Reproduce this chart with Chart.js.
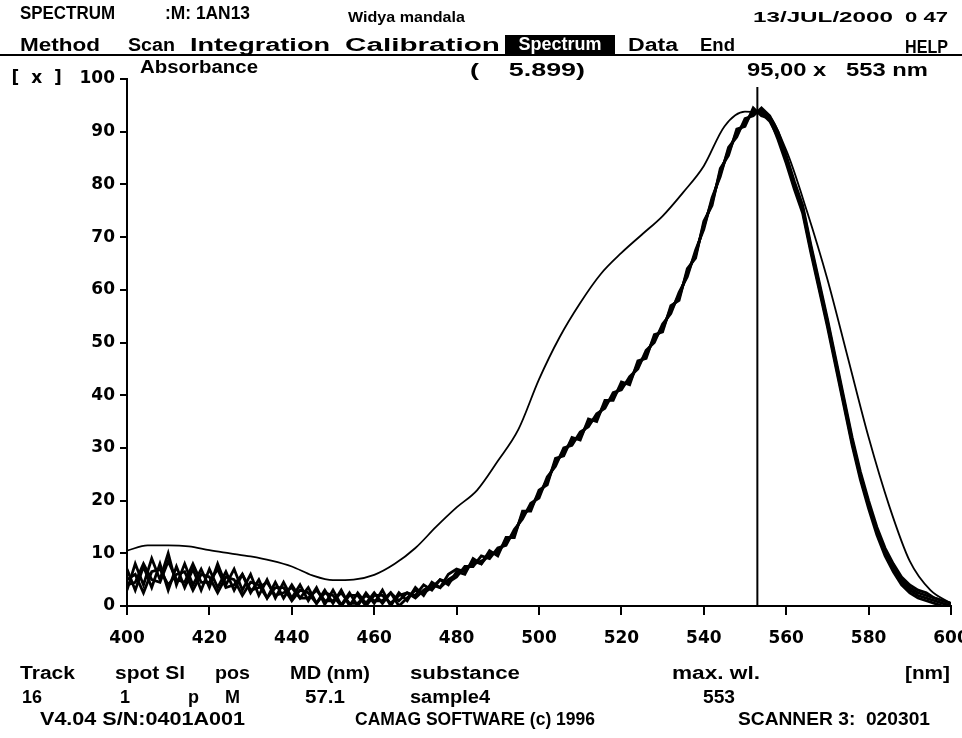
<!DOCTYPE html>
<html>
<head>
<meta charset="utf-8">
<script src="https://cdn.jsdelivr.net/npm/chart.js@4.4.1/dist/chart.umd.min.js"></script>
<style>
  html, body { margin: 0; padding: 0; background: #fff; }
  #wrap { position: relative; width: 962px; height: 738px; overflow: hidden; background: #fff; }
  #c { position: absolute; left: 0; top: 0; }
  .t { position: absolute; font-family: "Liberation Sans", Arial, sans-serif; font-weight: bold; font-size: 18px; line-height: 18px; color: #000; white-space: pre; transform-origin: 0 50%; }
  .s { font-size: 15px; line-height: 15px; }
  .inv { background: #000; color: #fff; width: 110px; height: 19px; text-align: center; }
  #rule { position: absolute; left: 0; top: 54px; width: 962px; height: 2px; background: #000; }
</style>
</head>
<body>
<div id="wrap">
  <canvas id="c" width="962" height="738"></canvas>
  <div class="t" data-w="95" style="left:20px;top:4px;">SPECTRUM</div>
  <div class="t" data-w="85" style="left:165px;top:4px;">:M: 1AN13</div>
  <div class="t s" data-w="117" style="left:348px;top:9px;">Widya mandala</div>
  <div class="t s" data-w="140" style="left:753px;top:9px;">13/JUL/2000</div>
  <div class="t s" data-w="43" style="left:905px;top:9px;">0 47</div>

  <div class="t" data-w="80" style="left:20px;top:36px;">Method</div>
  <div class="t" data-w="47" style="left:128px;top:36px;">Scan</div>
  <div class="t" data-w="140" style="left:190px;top:36px;">Integration</div>
  <div class="t" data-w="155" style="left:345px;top:36px;">Calibration</div>
  <div class="t inv" style="left:505px;top:35px;line-height:19px;">Spectrum</div>
  <div class="t" data-w="50" style="left:628px;top:36px;">Data</div>
  <div class="t" data-w="35" style="left:700px;top:36px;">End</div>
  <div class="t" data-w="43" style="left:905px;top:38px;">HELP</div>
  <div id="rule"></div>

  <div class="t" data-w="118" style="left:140px;top:58px;">Absorbance</div>
  <div class="t" data-w="115" style="left:470px;top:61px;">(    5.899)</div>
  <div class="t" data-w="181" style="left:747px;top:61px;">95,00 x   553 nm</div>

  <div class="t" data-w="55" style="left:20px;top:664px;">Track</div>
  <div class="t" data-w="70" style="left:115px;top:664px;">spot Sl</div>
  <div class="t" data-w="35" style="left:215px;top:664px;">pos</div>
  <div class="t" data-w="80" style="left:290px;top:664px;">MD (nm)</div>
  <div class="t" data-w="110" style="left:410px;top:664px;">substance</div>
  <div class="t" data-w="88" style="left:672px;top:664px;">max. wl.</div>
  <div class="t" data-w="45" style="left:905px;top:664px;">[nm]</div>

  <div class="t" data-w="20" style="left:22px;top:688px;">16</div>
  <div class="t" style="left:120px;top:688px;">1</div>
  <div class="t" style="left:188px;top:688px;">p</div>
  <div class="t" style="left:225px;top:688px;">M</div>
  <div class="t" data-w="40" style="left:305px;top:688px;">57.1</div>
  <div class="t" data-w="80" style="left:410px;top:688px;">sample4</div>
  <div class="t" data-w="32" style="left:703px;top:688px;">553</div>

  <div class="t" data-w="205" style="left:40px;top:710px;">V4.04 S/N:0401A001</div>
  <div class="t" data-w="240" style="left:355px;top:710px;">CAMAG SOFTWARE (c) 1996</div>
  <div class="t" data-w="192" style="left:738px;top:710px;">SCANNER 3:  020301</div>
</div>
<script>
// wavelengths (nm) of the sample tracks
const wavelengths = [400,402,404,406,408,410,412,414,416,418,420,422,424,426,428,430,432,434,436,438,
  440,442,444,446,448,450,452,454,456,458,460,462,464,466,468,470,472,474,476,478,
  480,482,484,486,488,490,492,494,496,498,500,502,504,506,508,510,512,514,516,518,
  520,522,524,526,528,530,532,534,536,538,540,542,544,546,548,550,552,554,556,558,
  560,562,564,566,568,570,572,574,576,578,580,582,584,586,588,590,592,594,596,598,600];

const sampleA = [3,8,4,9,5,10,4,8,4,7, 3.5,8,4,7,3,6,2,5,1.5,4.5, 1.5,4,1,3.5,0.3,3,0.2,2.5,0,2.5, 0.5,3,0,2.5,1,3.5,2,4.5,3.5,6,
  7,6.5,8.5,8,10,10,12.5,13.5,17.5,18.5, 21.5,23.5,27.5,29,31.5,32,35,35.5,38.5,39.5, 42,42.5,46,47.5,51,52.5,56.5,58.5,63.5,66.5,
  72.5,76.5,82.5,86,90,91.5,94,93.5,92,89, 84.5,79.5,75,67.5,60.5,53.5,46,38.5,31,24.5, 19,14,10,7,4.5,3,2,1.5,1,0.5, 0];
const sampleB = [7,3,7.5,3.5,8,3,7.5,3.5,7,3, 7,3.5,6.5,3,6,2.5,5,1.5,4.5,1.5, 4,1.5,3.5,0.5,3,0.5,3,0,2.5,0.5, 2.5,0.5,2.5,1,2.5,2,4,3,5,4.5,
  5.5,7.5,7.5,9.5,9,11,11.5,14.5,16.5,19.5, 20.5,24.5,26.5,30,30.5,33,34,36.5,37.5,40.5, 41,43.5,45,48.5,50,53.5,55.5,59.5,62.5,67.5,
  71.5,77.5,81.5,87,89,92.5,93,94.5,93,90, 85.5,80.5,76,68.5,61.5,54.5,47,39.5,32,25.5, 20,15,11,8,5.5,4,3,2.5,1.5,1, 0.5];
const sampleC = [5,6,2.5,6.5,7,4,6,6.5,3,6, 5.5,2.5,5.5,5,2,4.5,4,1.5,3.5,3.5, 1,3,2.5,0.5,2.5,2,0,2,2,0, 2,2,0.5,2,2.5,1.5,3,4,3.5,5,
  6,7,8,8.5,9.5,10.5,12,14,17,19, 21,24,27,29.5,31,32.5,34.5,36,38,40, 41.5,43,45.5,48,50.5,53,56,59,63,67,
  72,77,82,86.5,89.5,92,93.5,94,92.5,89.5, 85,80,75.5,68,61,54,46.5,39,31.5,25, 19.5,14.5,10.5,7.5,5,3.5,2.5,2,1.5,1, 0.5];
const sampleD = [4,4.5,8,5,4.5,8.5,5,4.5,8,4.5, 4.5,7,3.5,4,6,3,3.5,4.5,2,2.5, 3.5,1.5,1.5,3,1,1,2.5,0.5,0.5,2, 1,1,2.5,0,1.5,3,2.5,3.5,5,4,
  6.5,6,9,8,10.5,9.5,13,13,18,18, 22,23,28,28.5,32,31.5,35.5,35,39,39, 42.5,42,46.5,47,51.5,52,57,58,64,66,
  73,76,83,85.5,90.5,91,94.5,93,92.5,88.5, 84,79,74.5,67,60,53,45.5,38,30.5,24, 18.5,13.5,9.5,6.5,4,2.5,1.5,1,0.5,0, 0];

// reference (standard) track
const stdWavelengths = [400,405,410,415,420,425,430,435,440,445,450,455,460,465,470,475,480,485,490,495,
  500,505,510,515,520,525,530,535,540,545,550,555,560,565,570,575,580,585,590,595,600];
const stdValues = [10.5,11.5,11.5,11.3,10.6,10,9.4,8.6,7.5,5.8,4.9,5,5.9,8,11,15,18.7,22,27.5,33.5,
  43,51,57.5,63,67,70.5,74,78.5,83.5,91,93.8,93.5,86.5,75,62,47,32,19,8.5,3,0.5];

// cursor at max wavelength
const cursorWl = 553;
const cursorRange = [0, 98.5];

const xTicks = [400,420,440,460,480,500,520,540,560,580,600];
const yTicks = [0,10,20,30,40,50,60,70,80,90,100];
const yTopLabel = '[  x  ]   100';

// stretch the text blocks horizontally to the widths they have in the printout
document.querySelectorAll('.t[data-w]').forEach(el => {
  const target = +el.dataset.w;
  const natural = el.getBoundingClientRect().width;
  if (natural > 0) el.style.transform = 'scaleX(' + (target / natural) + ')';
});

const pts = (xs, ys) => xs.map((x, i) => ({x, y: ys[i]}));
const tickFont = {family: '"DejaVu Sans", sans-serif', weight: 'bold', size: 17};

const sampleStyle = {borderColor: '#000', borderWidth: 2.8, pointRadius: 0, tension: 0, fill: false};

new Chart(document.getElementById('c'), {
  type: 'line',
  data: {
    datasets: [
      Object.assign({label: 'A', data: pts(wavelengths, sampleA)}, sampleStyle),
      Object.assign({label: 'B', data: pts(wavelengths, sampleB)}, sampleStyle),
      Object.assign({label: 'C', data: pts(wavelengths, sampleC)}, sampleStyle),
      Object.assign({label: 'D', data: pts(wavelengths, sampleD)}, sampleStyle),
      {label: 'std', data: pts(stdWavelengths, stdValues), borderColor: '#000', borderWidth: 1.8,
       pointRadius: 0, cubicInterpolationMode: 'monotone', fill: false},
      {label: 'cursor', data: cursorRange.map(v => ({x: cursorWl, y: v})), borderColor: '#000',
       borderWidth: 2, pointRadius: 0, fill: false}
    ]
  },
  options: {
    responsive: false,
    animation: false,
    layout: {padding: {left: 0, right: 11, top: 79, bottom: 92}},
    plugins: {legend: {display: false}, tooltip: {enabled: false}},
    scales: {
      x: {
        type: 'linear', min: 400, max: 600,
        afterBuildTicks: s => { s.ticks = xTicks.map(v => ({value: v})); },
        ticks: {color: '#000', font: tickFont, padding: 13, maxRotation: 0, autoSkip: false},
        grid: {drawOnChartArea: false, drawTicks: true, tickLength: 9, color: '#000', lineWidth: 2},
        border: {display: true, color: '#000', width: 2},
        afterFit: s => { s.height = 40; s.paddingLeft = 0; s.paddingRight = 0; }
      },
      y: {
        type: 'linear', min: 0, max: 100,
        afterBuildTicks: s => { s.ticks = yTicks.map(v => ({value: v})); },
        ticks: {color: '#000', font: tickFont, padding: 5, autoSkip: false,
                callback: v => v === 100 ? yTopLabel : String(v)},
        grid: {drawOnChartArea: false, drawTicks: true, tickLength: 7, color: '#000', lineWidth: 2},
        border: {display: true, color: '#000', width: 2},
        afterFit: s => { s.width = 127; s.paddingTop = 0; s.paddingBottom = 0; }
      }
    }
  }
});
</script>
</body>
</html>
